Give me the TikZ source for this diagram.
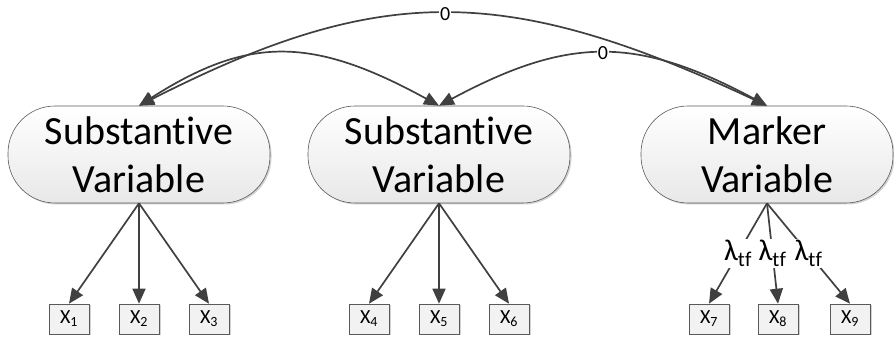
\documentclass[tikz,border=0pt]{standalone}
\usepackage{fontspec}
\setmainfont{Carlito}[Ligatures=NoCommon]
\usetikzlibrary{arrows.meta,shadows}
\definecolor{edge}{HTML}{404040}
\definecolor{boxfill}{HTML}{F2F2F2}
\begin{document}
\begin{tikzpicture}[x=1pt,y=1pt,
  >={Triangle[length=15pt,width=13pt]},
  softshadow/.style={drop shadow={shadow xshift=1.5pt,shadow yshift=-1.5pt,fill=black!35,opacity=0.5}},
  latent/.style={draw=black!65, line width=0.6pt, rounded corners=47pt,
    minimum width=262pt, minimum height=97pt, inner sep=0pt, align=center,
    top color=white, bottom color=black!9, softshadow,
    font=\fontsize{40}{48}\selectfont},
  indicator/.style={draw=black!65, line width=0.6pt, fill=boxfill,
    minimum width=40pt, minimum height=30pt, inner sep=0pt, softshadow,
    font=\fontsize{20}{22}\selectfont},
  link/.style={draw=edge, line width=1.7pt, ->},
  corr/.style={draw=edge, line width=1.7pt, <->, overlay},
  zero/.style={fill=white, inner sep=1pt, font=\fontsize{20}{22}\selectfont},
  load/.style={fill=white, inner sep=1.5pt, font=\fontsize{30}{32}\selectfont}
]
\useasboundingbox (0,0) rectangle (894,339);

% latent variables
\node[latent] (s1) at (139,184.5) {Substantive\\Variable};
\node[latent] (s2) at (439,184.5) {Substantive\\Variable};
\node[latent, minimum width=252pt] (mk) at (767,184.5) {Marker\\Variable};

% observed indicators
\node[indicator] (x1) at (69,20)  {X\textsubscript{1}};
\node[indicator] (x2) at (139,20) {X\textsubscript{2}};
\node[indicator] (x3) at (209,20) {X\textsubscript{3}};
\node[indicator] (x4) at (369,20) {X\textsubscript{4}};
\node[indicator] (x5) at (439,20) {X\textsubscript{5}};
\node[indicator] (x6) at (509,20) {X\textsubscript{6}};
\node[indicator] (x7) at (709,20) {X\textsubscript{7}};
\node[indicator] (x8) at (778,20) {X\textsubscript{8}};
\node[indicator] (x9) at (850,20) {X\textsubscript{9}};

% loadings
\draw[link] (s1.south) -- (x1.north);
\draw[link] (s1.south) -- (x2.north);
\draw[link] (s1.south) -- (x3.north);
\draw[link] (s2.south) -- (x4.north);
\draw[link] (s2.south) -- (x5.north);
\draw[link] (s2.south) -- (x6.north);
\draw[link] (mk.south) -- node[load] {λ\textsubscript{tf}} (x7.north);
\draw[link] (mk.south) -- node[load] {λ\textsubscript{tf}} (x8.north);
\draw[link] (mk.south) -- node[load] {λ\textsubscript{tf}} (x9.north);

% correlations between latent variables
\draw[corr] (s1.north) .. controls (380,356) and (505,356) .. node[zero] {0} (mk.north);
\draw[corr] (s1.north) .. controls (248,303) and (312,303) .. (s2.north);
\draw[corr] (s2.north) .. controls (569,303) and (637,303) .. node[zero] {0} (mk.north);
\end{tikzpicture}
\end{document}
